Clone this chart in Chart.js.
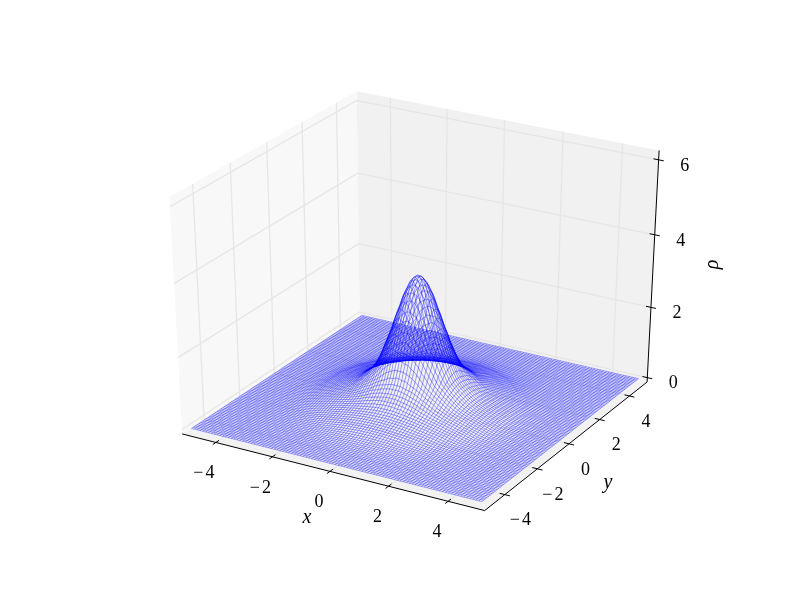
<!DOCTYPE html>
<html>
<head>
<meta charset="utf-8">
<title>rho wireframe</title>
<script src="https://cdn.jsdelivr.net/npm/chart.js@4/dist/chart.umd.min.js"></script>
<style>
  html, body { margin: 0; padding: 0; background: #fff; }
  canvas { display: block; }
</style>
</head>
<body>
<canvas id="chart" width="800" height="600"></canvas>
<script>
/* wire positions, same list for x and y */
const gridVals = [
  -5.000, -4.899, -4.798, -4.697, -4.596, -4.495, -4.394, -4.293, -4.192, -4.091,
  -3.990, -3.889, -3.788, -3.687, -3.586, -3.485, -3.384, -3.283, -3.182, -3.081,
  -2.980, -2.879, -2.778, -2.677, -2.576, -2.475, -2.374, -2.273, -2.172, -2.071,
  -1.970, -1.869, -1.768, -1.667, -1.566, -1.465, -1.364, -1.263, -1.162, -1.061,
  -0.960, -0.859, -0.758, -0.657, -0.556, -0.455, -0.354, -0.253, -0.152, -0.051,
  0.051, 0.152, 0.253, 0.354, 0.455, 0.556, 0.657, 0.758, 0.859, 0.960,
  1.061, 1.162, 1.263, 1.364, 1.465, 1.566, 1.667, 1.768, 1.869, 1.970,
  2.071, 2.172, 2.273, 2.374, 2.475, 2.576, 2.677, 2.778, 2.879, 2.980,
  3.081, 3.182, 3.283, 3.384, 3.485, 3.586, 3.687, 3.788, 3.889, 3.990,
  4.091, 4.192, 4.293, 4.394, 4.495, 4.596, 4.697, 4.798, 4.899, 5.000
];

const rhoStep = 0.0225;
const rhoProfile = [
  3.550, 3.548, 3.544, 3.536, 3.525,
  3.511, 3.494, 3.474, 3.451, 3.425,
  3.397, 3.366, 3.332, 3.297, 3.258,
  3.218, 3.175, 3.131, 3.085, 3.037,
  2.988, 2.937, 2.885, 2.832, 2.778,
  2.723, 2.667, 2.611, 2.555, 2.498,
  2.440, 2.382, 2.325, 2.268, 2.210,
  2.153, 2.096, 2.040, 1.985, 1.930,
  1.875, 1.821, 1.768, 1.716, 1.664,
  1.613, 1.563, 1.515, 1.467, 1.420,
  1.374, 1.329, 1.286, 1.243, 1.202,
  1.161, 1.121, 1.083, 1.046, 1.012,
  0.985, 0.958, 0.932, 0.908, 0.885,
  0.864, 0.844, 0.825, 0.807, 0.785,
  0.763, 0.742, 0.721, 0.710, 0.695,
  0.680, 0.662, 0.645, 0.628, 0.612,
  0.596, 0.581, 0.566, 0.552, 0.538,
  0.524, 0.510, 0.497, 0.484, 0.471,
  0.461, 0.452, 0.442, 0.433, 0.424,
  0.416, 0.407, 0.399, 0.391, 0.383,
  0.375, 0.367, 0.360, 0.353, 0.345,
  0.338, 0.332, 0.325, 0.318, 0.312,
  0.306, 0.300, 0.294, 0.288, 0.282,
  0.275, 0.268, 0.261, 0.254, 0.247,
  0.241, 0.235, 0.229, 0.223, 0.217,
  0.211, 0.206, 0.201, 0.196, 0.191,
  0.186, 0.181, 0.176, 0.171, 0.167,
  0.159, 0.152, 0.145, 0.139, 0.133,
  0.127, 0.121, 0.116, 0.111, 0.106,
  0.101, 0.097, 0.092, 0.088, 0.084,
  0.080, 0.077, 0.073, 0.070, 0.067,
  0.064, 0.061, 0.058, 0.056, 0.053,
  0.051, 0.048, 0.046, 0.044, 0.042,
  0.040, 0.038, 0.036, 0.034, 0.032,
  0.031, 0.029, 0.028, 0.026, 0.025,
  0.023, 0.022, 0.021, 0.020, 0.019,
  0.018, 0.017, 0.016, 0.015, 0.014,
  0.013, 0.012, 0.012, 0.011, 0.010,
  0.010, 0.009, 0.009, 0.008, 0.008,
  0.007, 0.007, 0.006, 0.006, 0.005,
  0.005, 0.005, 0.004, 0.004, 0.004,
  0.003, 0.003, 0.003, 0.002, 0.002,
  0.002, 0.002, 0.001, 0.001, 0.001
];

const xyTicks = [-4, -2, 0, 2, 4];
const zTicks = [0, 2, 4, 6];

const xyMax = 5;
const zMax = 6.12;
const dist = 10;

const C = 0.8660254; // cos 30, view is elev 30 azim -60

// 3d view of the box -> 2d view coords, the scales below are in these units
function project(x, y, z) {
  const bx = (x + xyMax) / (2 * xyMax) - 0.5;
  const by = (y + xyMax) / (2 * xyMax) - 0.5;
  const bz = z / zMax - 0.5;
  const depth = dist - (0.5 * C * bx - 0.75 * by + 0.5 * bz);
  return {
    x: (C * bx + 0.5 * by) / depth,
    y: (-0.25 * bx + 0.5 * C * by + C * bz) / depth
  };
}

function rhoAt(x, y) {
  const k = Math.round(Math.hypot(x, y) / rhoStep);
  return k < rhoProfile.length ? rhoProfile[k] : 0;
}

// panes sit a little outside the data box
const P = xyMax + 2 * xyMax / 48;
const zLo = -zMax / 48;
const zHi = zMax + zMax / 48;
const tickLen = 0.17;

function poly(pts, style, order) {
  return Object.assign({
    data: pts.map(p => project(p[0], p[1], p[2])),
    showLine: true,
    pointRadius: 0,
    order: order
  }, style);
}

const datasets = [];

// wire
gridVals.forEach(a => {
  const wire = { borderColor: '#0000ff', borderWidth: 0.37, tension: 0 };
  datasets.push(poly(gridVals.map(b => [a, b, rhoAt(a, b)]), wire, 0));
  datasets.push(poly(gridVals.map(b => [b, a, rhoAt(b, a)]), wire, 0));
});

// axis lines and ticks
const axisStyle = { borderColor: '#000', borderWidth: 1 };
datasets.push(poly([[-P, -P, zLo], [P, -P, zLo]], axisStyle, 1));
datasets.push(poly([[P, -P, zLo], [P, P, zLo]], axisStyle, 1));
datasets.push(poly([[P, P, zLo], [P, P, zHi]], axisStyle, 1));
xyTicks.forEach(t => {
  datasets.push(poly([[t, -P - tickLen, zLo], [t, -P + tickLen, zLo]], axisStyle, 1));
  datasets.push(poly([[P + tickLen, t, zLo], [P - tickLen, t, zLo]], axisStyle, 1));
});
zTicks.forEach(t => {
  datasets.push(poly([[P + tickLen, P, t], [P - tickLen, P, t]], axisStyle, 1));
});

// grid on the panes
const gridStyle = { borderColor: '#e6e6e6', borderWidth: 1.3 };
xyTicks.forEach(t => {
  datasets.push(poly([[t, -P, zLo], [t, P, zLo], [t, P, zHi]], gridStyle, 2));
  datasets.push(poly([[P, t, zLo], [-P, t, zLo], [-P, t, zHi]], gridStyle, 2));
});
zTicks.forEach(t => {
  datasets.push(poly([[-P, -P, t], [-P, P, t], [P, P, t]], gridStyle, 2));
});

// panes
function pane(pts, color) {
  return poly(pts.concat([pts[0]]), { borderColor: color, borderWidth: 0, backgroundColor: color, fill: 'shape' }, 3);
}
datasets.push(pane([[-P, -P, zLo], [-P, P, zLo], [-P, P, zHi], [-P, -P, zHi]], 'rgb(248,248,248)'));
datasets.push(pane([[-P, P, zLo], [P, P, zLo], [P, P, zHi], [-P, P, zHi]], 'rgb(241,241,241)'));
datasets.push(pane([[-P, -P, zLo], [P, -P, zLo], [P, P, zLo], [-P, P, zLo]], 'rgb(242,242,242)'));

// tick labels and axis titles
const labelPlugin = {
  id: 'labels3d',
  afterDraw(chart) {
    const ctx = chart.ctx;
    const sx = chart.scales.x, sy = chart.scales.y;
    const at = (x, y, z) => {
      const p = project(x, y, z);
      return [sx.getPixelForValue(p.x), sy.getPixelForValue(p.y)];
    };
    const put = (txt, pos, dx, dy, font, rot) => {
      ctx.save();
      ctx.translate(pos[0] + dx, pos[1] + dy);
      if (rot) ctx.rotate(rot);
      ctx.font = font;
      ctx.fillStyle = '#000';
      ctx.textAlign = 'center';
      ctx.textBaseline = 'middle';
      ctx.letterSpacing = txt.length > 1 ? '2px' : '0px';
      ctx.fillText(txt, 0, 0);
      ctx.restore();
    };
    const fmt = t => (t < 0 ? '\u2212' + (-t) : String(t));
    const num = '18px "Liberation Serif"';
    const ital = 'italic 20px "Liberation Serif"';
    ctx.save();
    xyTicks.forEach(t => {
      put(fmt(t), at(t, -P, zLo), -11, 31, num);
      put(fmt(t), at(P, t, zLo), 16.5, 26, num);
    });
    zTicks.forEach(t => put(fmt(t), at(P, P, t), 26, 6, num));
    put('x', at(0, -P, zLo), -23, 46, ital);
    put('y', at(P, 0, zLo), 39, 39, ital);
    put('\u03c1', at(P, P, 3), 60, -7, ital, -Math.PI / 2);
    ctx.restore();
  }
};

new Chart(document.getElementById('chart'), {
  type: 'scatter',
  data: { datasets: datasets },
  plugins: [labelPlugin],
  options: {
    responsive: false,
    animation: false,
    events: [],
    layout: { padding: 0 },
    plugins: { legend: { display: false }, tooltip: { enabled: false }, title: { display: false } },
    scales: {
      x: { type: 'linear', display: false, min: -0.12484, max: 0.11387 },
      y: { type: 'linear', display: false, min: -0.11812, max: 0.11312 }
    }
  }
});
</script>
</body>
</html>
